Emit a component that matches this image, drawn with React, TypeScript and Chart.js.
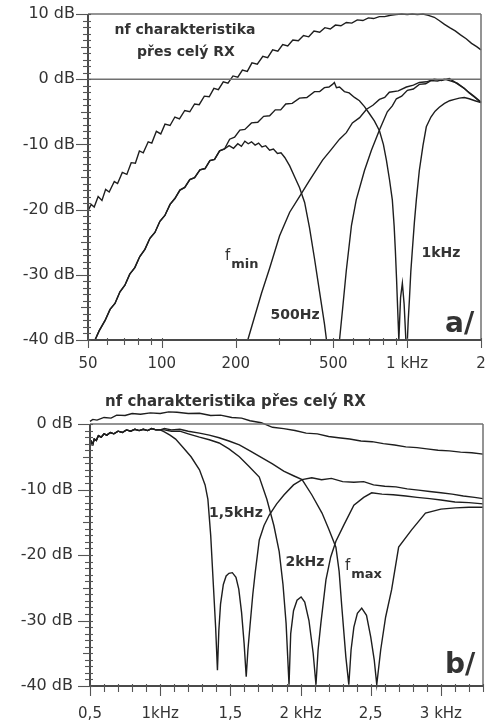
import React, { useEffect, useRef } from "react";
import { Chart, registerables } from "chart.js";

Chart.register(...registerables);
Chart.defaults.font.family = "'DejaVu Sans', sans-serif";

// ---------------- Panel a/ (log frequency, Hz) ----------------
const aXTicks = [50, 100, 200, 500, 1000, 2000];
const aXTickLabels = ["50", "100", "200", "500", "1 kHz", "2"];
const aXMinorTicks = [60, 70, 80, 90, 300, 400, 600, 700, 800, 900];
const aYTicks = [-40, -30, -20, -10, 0, 10];
const aYTickLabels = ["-40 dB", "-30 dB", "-20 dB", "-10 dB", "0 dB", "10 dB"];

// whole-receiver curve ("nf charakteristika přes celý RX")
const aOverallHz = [50, 51.5, 53, 55, 57, 59, 61, 64, 66, 69, 72, 75, 78, 81, 84, 88, 91, 95, 99, 103, 108, 113, 118, 124, 130, 136, 142, 149, 156, 163, 170, 178, 186, 195, 204, 213, 223, 233, 245, 258, 270, 283, 297, 311, 326, 342, 360, 378, 397, 417, 440, 462, 486, 510, 537, 565, 595, 626, 660, 695, 730, 770, 810, 855, 900, 950, 1000, 1050, 1100, 1160, 1220, 1290, 1350, 1420, 1490, 1570, 1650, 1740, 1830, 1920, 2000];
const aOverallDb = [-20.2, -19.2, -19.6, -18.0, -18.6, -16.9, -17.3, -15.7, -16.0, -14.3, -14.6, -12.8, -12.9, -11.0, -11.3, -9.6, -9.8, -8.0, -8.4, -6.9, -7.1, -5.8, -6.1, -4.8, -5.0, -3.8, -3.9, -2.6, -2.7, -1.4, -1.6, -0.4, -0.6, 0.5, 0.3, 1.4, 1.2, 2.5, 2.3, 3.5, 3.3, 4.5, 4.3, 5.3, 5.1, 6.0, 5.9, 6.7, 6.5, 7.4, 7.2, 7.9, 7.7, 8.3, 8.2, 8.7, 8.6, 9.1, 9.0, 9.4, 9.3, 9.6, 9.6, 9.8, 9.9, 10.0, 9.9, 10.0, 9.9, 10.0, 9.8, 9.5, 9.0, 8.4, 7.9, 7.4, 6.8, 6.2, 5.5, 5.0, 4.5];

// steep common rise of the two low-frequency curves
const aRiseHz = [53.4, 55.5, 58.7, 61.5, 64.4, 67.5, 70.7, 74, 77.6, 81.3, 85.3, 89.4, 93.7, 98.2, 102.9, 108, 113, 118.5, 124, 130, 136, 143, 150, 157, 164, 172, 180];
const aRiseDb = [-40, -38.6, -37.0, -35.3, -34.4, -32.6, -31.6, -29.9, -28.9, -27.2, -26.1, -24.4, -23.5, -21.8, -20.9, -19.2, -18.3, -17.0, -16.6, -15.4, -15.1, -13.9, -13.7, -12.5, -12.3, -11.0, -10.7];

// lower hump (peaks near -10 dB)
const aHumpHz = [188, 196, 204, 211, 218, 225, 232, 240, 248, 256, 265, 275, 285, 296, 306, 317, 332, 348, 364, 382, 400, 419, 439, 460, 469];
const aHumpDb = [-10.2, -10.6, -9.9, -10.3, -9.5, -9.9, -9.6, -10.1, -9.8, -10.4, -10.2, -10.9, -10.7, -11.4, -11.3, -12.0, -13.3, -15.0, -16.6, -18.9, -22.8, -27.5, -32.5, -37.5, -40];

// upper hump (peaks near -1 dB at 500 Hz, notches below 1 kHz)
const aPeakHz = [189, 198, 208, 218, 232, 246, 260, 275, 290, 305, 320, 340, 364, 390, 419, 440, 460, 480, 496, 505, 515, 530, 555, 580, 610, 639, 670, 702, 735, 771, 800, 823, 848, 870, 885, 895, 905, 912, 925, 940, 956, 972, 988];
const aPeakDb = [-9.2, -8.9, -7.8, -7.7, -6.7, -6.6, -5.7, -5.6, -4.7, -4.7, -3.8, -3.7, -2.9, -2.8, -1.9, -1.9, -1.3, -1.2, -0.8, -0.5, -1.3, -1.2, -1.9, -2.1, -2.8, -3.3, -4.2, -5.3, -6.4, -7.9, -10.0, -12.4, -15.5, -18.5, -22.5, -26.2, -30.5, -33.9, -40, -33.5, -31.3, -34.5, -40];

// f_min high-pass
const aFminHz = [224, 239, 255, 275, 302, 332, 364, 400, 452, 490, 530, 565, 598, 640, 683, 725, 771, 810, 846, 920, 993, 1060, 1121, 1200, 1290, 1380, 1485, 1560, 1631, 1710, 1790, 1890, 2000];
const aFminDb = [-40, -36.4, -32.8, -29.0, -24.0, -20.4, -18.0, -15.5, -12.4, -10.8, -9.2, -8.2, -6.7, -5.9, -4.6, -4.0, -3.1, -2.8, -2.0, -1.8, -1.2, -0.9, -0.5, -0.4, 0, -0.2, 0.1, -0.4, -0.9, -1.4, -2.1, -2.8, -3.6];

// 500 Hz high-pass
const a500Hz = [530, 545, 565, 593, 620, 670, 715, 771, 830, 870, 904, 950, 1002, 1060, 1121, 1190, 1254, 1330, 1417, 1510, 1600, 1680, 1757, 1870, 2000];
const a500Db = [-40, -35.4, -29.3, -22.4, -18.5, -14.0, -10.9, -7.8, -5.0, -4.1, -3.0, -2.6, -1.7, -1.5, -0.8, -0.7, -0.2, -0.3, 0, -0.3, -0.6, -1.2, -1.8, -2.6, -3.5];

// 1 kHz high-pass
const a1kHz = [1002, 1010, 1021, 1035, 1050, 1070, 1090, 1121, 1160, 1197, 1250, 1300, 1352, 1420, 1490, 1560, 1631, 1710, 1790, 1890, 2000];
const a1kDb = [-40, -37, -33.9, -29.5, -26.2, -22, -18.5, -14.0, -10.2, -7.3, -5.8, -4.9, -4.3, -3.7, -3.3, -3.1, -2.9, -2.8, -3.0, -3.3, -3.6];

// ---------------- Panel b/ (linear frequency, kHz) ----------------
const bXTicks = [0.5, 1, 1.5, 2, 2.5, 3];
const bXTickLabels = ["0,5", "1kHz", "1,5", "2 kHz", "2,5", "3 kHz"];
const bYTicks = [-40, -30, -20, -10, 0];
const bYTickLabels = ["-40 dB", "-30 dB", "-20 dB", "-10 dB", "0 dB"];

const bOverallKHz = [0.5, 0.52, 0.55, 0.6, 0.65, 0.69, 0.75, 0.8, 0.86, 0.93, 1.0, 1.06, 1.12, 1.2, 1.28, 1.36, 1.43, 1.51, 1.58, 1.64, 1.72, 1.8, 1.88, 1.96, 2.04, 2.12, 2.2, 2.27, 2.35, 2.43, 2.51, 2.59, 2.67, 2.75, 2.83, 2.9, 2.98, 3.06, 3.14, 3.22, 3.3];
const bOverallDb = [0.4, 0.7, 0.6, 1.0, 0.9, 1.35, 1.3, 1.6, 1.5, 1.7, 1.6, 1.85, 1.8, 1.6, 1.65, 1.3, 1.35, 1.0, 0.9, 0.5, 0.2, -0.5, -0.7, -1.0, -1.4, -1.5, -1.9, -2.1, -2.3, -2.6, -2.7, -3.0, -3.2, -3.5, -3.6, -3.8, -4.0, -4.1, -4.3, -4.4, -4.6];

// common pass band of the three low-pass settings
const bPassKHz = [0.5, 0.51, 0.52, 0.53, 0.545, 0.56, 0.58, 0.6, 0.62, 0.645, 0.67, 0.7, 0.73, 0.76, 0.79, 0.82, 0.85, 0.88, 0.91, 0.94, 0.97, 1.0];
const bPassDb = [-3.6, -2.7, -3.1, -2.3, -2.5, -1.8, -2.0, -1.5, -1.7, -1.3, -1.5, -1.1, -1.3, -0.9, -1.1, -0.8, -1.0, -0.8, -1.0, -0.7, -0.9, -0.9];

const b15KHz = [1.03, 1.07, 1.11, 1.16, 1.22, 1.28, 1.32, 1.34, 1.36, 1.38, 1.395, 1.408, 1.418, 1.43, 1.45, 1.47, 1.49, 1.514, 1.54, 1.56, 1.58, 1.598, 1.613, 1.625, 1.64, 1.66, 1.677, 1.706, 1.74, 1.777, 1.83, 1.883, 1.95, 2.011, 2.08, 2.15, 2.22, 2.3, 2.38, 2.45, 2.52, 2.6, 2.68, 2.76, 2.84, 2.92, 3.0, 3.08, 3.16, 3.24, 3.3];
const b15Db = [-1.2, -1.7, -2.3, -3.5, -5.0, -7.0, -9.3, -11.5, -17.0, -25.0, -31.0, -37.6, -31.5, -27.5, -24.5, -23.2, -22.8, -22.7, -23.4, -25.2, -28.8, -33.5, -38.6, -34.5, -30.8, -26.0, -22.7, -17.7, -15.5, -13.9, -12.2, -10.8, -9.3, -8.5, -8.2, -8.5, -8.3, -8.8, -8.9, -8.8, -9.3, -9.5, -9.6, -9.9, -10.1, -10.3, -10.5, -10.7, -11.0, -11.2, -11.4];

const b2KHz = [1.03, 1.08, 1.14, 1.2, 1.28, 1.35, 1.42, 1.49, 1.564, 1.63, 1.706, 1.76, 1.81, 1.848, 1.875, 1.897, 1.918, 1.93, 1.95, 1.975, 2.004, 2.03, 2.06, 2.09, 2.11, 2.125, 2.145, 2.181, 2.215, 2.252, 2.309, 2.38, 2.45, 2.507, 2.58, 2.66, 2.75, 2.83, 2.92, 3.0, 3.1, 3.2, 3.3];
const b2Db = [-0.9, -1.1, -1.1, -1.5, -2.0, -2.4, -2.9, -3.8, -5.0, -6.4, -8.1, -11.5, -15.5, -19.5, -24.5, -30.4, -39.8, -32.0, -28.5, -26.9, -26.4, -27.2, -30.0, -35.0, -39.8, -34.5, -30.4, -23.8, -20.3, -17.9, -15.4, -12.4, -11.2, -10.5, -10.7, -10.8, -11.0, -11.2, -11.4, -11.6, -11.9, -12.0, -12.2];

const bMaxKHz = [1.03, 1.08, 1.14, 1.2, 1.28, 1.35, 1.42, 1.49, 1.564, 1.64, 1.72, 1.8, 1.88, 1.95, 2.011, 2.08, 2.153, 2.2, 2.252, 2.275, 2.294, 2.323, 2.344, 2.36, 2.38, 2.405, 2.436, 2.47, 2.5, 2.525, 2.543, 2.571, 2.606, 2.649, 2.699, 2.79, 2.89, 3.0, 3.103, 3.2, 3.3];
const bMaxDb = [-0.7, -0.9, -0.8, -1.1, -1.4, -1.7, -2.1, -2.6, -3.2, -4.1, -5.1, -6.1, -7.2, -7.9, -8.5, -10.8, -13.6, -16.0, -18.8, -22.5, -27.9, -35.6, -39.8, -34.5, -31.0, -28.9, -28.1, -29.2, -32.5, -36.0, -39.8, -34.5, -29.5, -25.3, -18.8, -16.2, -13.6, -13.0, -12.8, -12.7, -12.7];

// ---------------- helpers ----------------
const zip = (xs: number[], ys: number[]) => xs.map((x, i) => ({ x, y: ys[i] }));
const CURVE = "#1e1e1e";
const TEXT = "#333";

const curve = (data: { x: number; y: number }[]) => ({
  data,
  borderColor: CURVE,
  borderWidth: 1.4,
  pointRadius: 0,
  tension: 0,
  fill: false,
  clip: false as any,
});

function seg(ctx: CanvasRenderingContext2D, x1: number, y1: number, x2: number, y2: number) {
  ctx.beginPath();
  ctx.moveTo(x1, y1);
  ctx.lineTo(x2, y2);
  ctx.stroke();
}

function yTicks(ctx: CanvasRenderingContext2D, chart: any, lo: number, hi: number) {
  const ca = chart.chartArea;
  const ys = chart.scales.y;
  ctx.strokeStyle = "#555";
  ctx.lineWidth = 1.1;
  for (let v = lo; v <= hi; v++) {
    const py = Math.round(ys.getPixelForValue(v)) + 0.5;
    const major = v % 10 === 0;
    const mid = v % 5 === 0;
    seg(ctx, ca.left - (major ? 12 : mid ? 7 : 5), py, ca.left + 3, py);
  }
}

function sub(ctx: CanvasRenderingContext2D, main: string, s: string, x: number, y: number) {
  ctx.textAlign = "left";
  ctx.textBaseline = "alphabetic";
  ctx.font = "15px 'DejaVu Sans'";
  ctx.fillText(main, x, y);
  const w = ctx.measureText(main).width;
  ctx.font = "bold 13px 'DejaVu Sans'";
  ctx.fillText(s, x + w + 1, y + 8);
}

const panelAPlugin = {
  id: "panelA",
  afterDatasetsDraw(chart: any) {
    const { ctx, chartArea: ca } = chart;
    const xs = chart.scales.x;
    const ys = chart.scales.y;
    ctx.save();
    // frame + 0 dB line
    ctx.strokeStyle = "#707070";
    ctx.lineWidth = 1.5;
    seg(ctx, ca.left, ys.getPixelForValue(10), ca.right, ys.getPixelForValue(10));
    seg(ctx, ca.left, ys.getPixelForValue(0), ca.right, ys.getPixelForValue(0));
    seg(ctx, ca.right, ca.top, ca.right, ca.bottom);
    // axes
    ctx.strokeStyle = "#4a4a4a";
    ctx.lineWidth = 2;
    seg(ctx, ca.left, ca.top, ca.left, ca.bottom);
    seg(ctx, ca.left, ca.bottom, ca.right, ca.bottom);
    yTicks(ctx, chart, -40, 10);
    ctx.lineWidth = 1.1;
    ctx.strokeStyle = "#555";
    aXTicks.forEach((v) => {
      const px = Math.round(xs.getPixelForValue(v)) + 0.5;
      seg(ctx, px, ca.bottom - 2, px, ca.bottom + 8);
    });
    aXMinorTicks.forEach((v) => {
      const px = Math.round(xs.getPixelForValue(v)) + 0.5;
      seg(ctx, px, ca.bottom - 2, px, ca.bottom + 5);
    });
    // texts
    ctx.fillStyle = TEXT;
    ctx.font = "bold 14px 'DejaVu Sans'";
    ctx.textAlign = "center";
    ctx.textBaseline = "middle";
    ctx.fillText("nf charakteristika", 185, 30);
    ctx.fillText("přes celý RX", 186, 52);
    ctx.fillText("500Hz", 295, 315);
    ctx.fillText("1kHz", 441, 253);
    sub(ctx, "f", "min", 225, 260);
    ctx.font = "bold 28px 'DejaVu Sans'";
    ctx.textAlign = "left";
    ctx.textBaseline = "alphabetic";
    ctx.fillText("a/", 445, 332);
    ctx.restore();
  },
};

const panelBPlugin = {
  id: "panelB",
  afterDatasetsDraw(chart: any) {
    const { ctx, chartArea: ca } = chart;
    const xs = chart.scales.x;
    ctx.save();
    ctx.strokeStyle = "#707070";
    ctx.lineWidth = 1.5;
    seg(ctx, ca.left, ca.top, ca.right, ca.top);
    seg(ctx, ca.right, ca.top, ca.right, ca.bottom);
    ctx.strokeStyle = "#4a4a4a";
    ctx.lineWidth = 2;
    seg(ctx, ca.left, ca.top, ca.left, ca.bottom);
    seg(ctx, ca.left, ca.bottom, ca.right, ca.bottom);
    yTicks(ctx, chart, -40, 0);
    ctx.lineWidth = 1.1;
    ctx.strokeStyle = "#555";
    for (let k = 5; k <= 33; k++) {
      const px = Math.round(xs.getPixelForValue(k / 10)) + 0.5;
      const major = k % 5 === 0;
      seg(ctx, px, ca.bottom - 2, px, ca.bottom + (major ? 10 : 6));
    }
    ctx.fillStyle = TEXT;
    ctx.font = "bold 15px 'DejaVu Sans'";
    ctx.textAlign = "left";
    ctx.textBaseline = "middle";
    ctx.fillText("nf charakteristika přes celý RX", 105, 30);
    ctx.font = "bold 14px 'DejaVu Sans'";
    ctx.textAlign = "center";
    ctx.fillText("1,5kHz", 236, 141);
    ctx.fillText("2kHz", 305, 190);
    sub(ctx, "f", "max", 345, 198);
    ctx.font = "bold 28px 'DejaVu Sans'";
    ctx.textAlign = "left";
    ctx.textBaseline = "alphabetic";
    ctx.fillText("b/", 445, 301);
    ctx.restore();
  },
};

function baseOptions(extra: any) {
  return {
    responsive: false,
    maintainAspectRatio: false,
    devicePixelRatio: 1,
    animation: false,
    events: [],
    plugins: { legend: { display: false }, tooltip: { enabled: false } },
    ...extra,
  };
}

// axis label offset handled through (hidden) tick length so it does not inflate chart padding
const hiddenGrid = (len: number) => ({ display: false, drawTicks: true, tickLength: len });

export default function App() {
  const refA = useRef<HTMLCanvasElement>(null);
  const refB = useRef<HTMLCanvasElement>(null);

  useEffect(() => {
    const chartA = new Chart(refA.current as HTMLCanvasElement, {
      type: "line",
      data: {
        datasets: [
          curve(zip(aOverallHz, aOverallDb)),
          curve(zip(aRiseHz.concat(aHumpHz), aRiseDb.concat(aHumpDb))),
          curve(zip(aRiseHz.concat(aPeakHz), aRiseDb.concat(aPeakDb))),
          curve(zip(aFminHz, aFminDb)),
          curve(zip(a500Hz, a500Db)),
          curve(zip(a1kHz, a1kDb)),
        ] as any,
      },
      options: baseOptions({
        layout: { padding: { left: 0, right: 8, top: 14, bottom: 0 } },
        scales: {
          x: {
            type: "logarithmic",
            min: 50,
            max: 2000,
            grid: hiddenGrid(15),
            border: { display: false },
            afterFit: (s: any) => { s.height = 32; },
            afterBuildTicks: (s: any) => { s.ticks = aXTicks.map((value) => ({ value })); },
            ticks: {
              autoSkip: false,
              maxRotation: 0,
              padding: 0,
              color: TEXT,
              font: { size: 15 },
              callback: (_v: any, i: number) => aXTickLabels[i],
            },
          },
          y: {
            type: "linear",
            min: -40,
            max: 10,
            grid: hiddenGrid(13),
            border: { display: false },
            afterFit: (s: any) => { s.width = 88; },
            afterBuildTicks: (s: any) => { s.ticks = aYTicks.map((value) => ({ value })); },
            ticks: {
              autoSkip: false,
              padding: 0,
              color: TEXT,
              font: { size: 16 },
              callback: (_v: any, i: number) => aYTickLabels[i],
            },
          },
        },
      }),
      plugins: [panelAPlugin],
    });

    const chartB = new Chart(refB.current as HTMLCanvasElement, {
      type: "line",
      data: {
        datasets: [
          curve(zip(bOverallKHz, bOverallDb)),
          curve(zip(bPassKHz.concat(b15KHz), bPassDb.concat(b15Db))),
          curve(zip(bPassKHz.concat(b2KHz), bPassDb.concat(b2Db))),
          curve(zip(bPassKHz.concat(bMaxKHz), bPassDb.concat(bMaxDb))),
        ] as any,
      },
      options: baseOptions({
        layout: { padding: { left: 0, right: 6, top: 52, bottom: 0 } },
        scales: {
          x: {
            type: "linear",
            min: 0.5,
            max: 3.3,
            grid: hiddenGrid(19),
            border: { display: false },
            afterFit: (s: any) => { s.height = 36; },
            afterBuildTicks: (s: any) => { s.ticks = bXTicks.map((value) => ({ value })); },
            ticks: {
              autoSkip: false,
              maxRotation: 0,
              padding: 0,
              color: TEXT,
              font: { size: 15 },
              callback: (_v: any, i: number) => bXTickLabels[i],
            },
          },
          y: {
            type: "linear",
            min: -40,
            max: 0,
            grid: hiddenGrid(17),
            border: { display: false },
            afterFit: (s: any) => { s.width = 90; },
            afterBuildTicks: (s: any) => { s.ticks = bYTicks.map((value) => ({ value })); },
            ticks: {
              autoSkip: false,
              padding: 0,
              color: TEXT,
              font: { size: 16 },
              callback: (_v: any, i: number) => bYTickLabels[i],
            },
          },
        },
      }),
      plugins: [panelBPlugin],
    });

    return () => {
      chartA.destroy();
      chartB.destroy();
    };
  }, []);

  return (
    <div style={{ position: "absolute", left: 0, top: 0, width: 489, height: 722, background: "#fff" }}>
      <canvas ref={refA} width={489} height={372} style={{ display: "block", width: 489, height: 372 }} />
      <canvas ref={refB} width={489} height={350} style={{ display: "block", width: 489, height: 350 }} />
    </div>
  );
}
